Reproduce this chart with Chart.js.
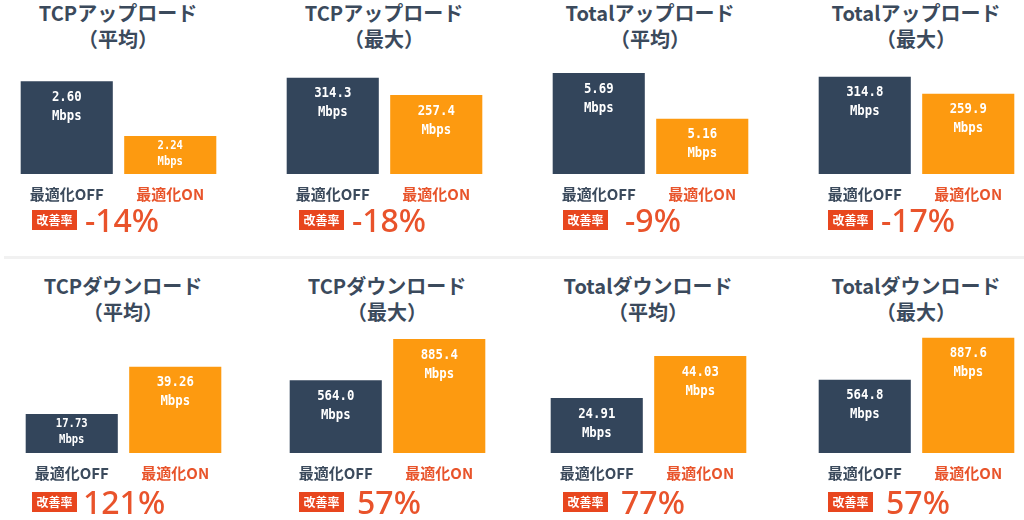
<!DOCTYPE html>
<html lang="ja">
<head>
<meta charset="utf-8">
<title>最適化ON/OFF 通信速度比較</title>
<script src="https://cdn.jsdelivr.net/npm/chart.js@4.4.1/dist/chart.umd.min.js"></script>
<style>
  html, body { margin: 0; padding: 0; background: #fff; }
  body {
    width: 1024px; height: 520px; position: relative; overflow: hidden;
    font-family: "Noto Sans CJK JP", "Noto Sans", sans-serif;
  }
  .title {
    position: absolute; width: 240px; margin-left: -120px; text-align: center;
    font-size: 20px; line-height: 26px; font-weight: 700; color: #3b4a5c;
  }
  .cell { position: absolute; width: 207px; }
  .rate { position: absolute; display: flex; align-items: center; height: 30px; }
  .badge {
    width: 45px; height: 20px; line-height: 20px; text-align: center;
    background: #e8461e; color: #fff; font-size: 12px; font-weight: 700;
  }
  .pct {
    width: 78px; margin-left: 6px; text-align: center; line-height: 30px;
    font-family: "Noto Sans", sans-serif; font-size: 32px; font-weight: 500; color: #e9532b;
  }
  .sep { position: absolute; left: 4px; right: 0; top: 256px; height: 3px; background: #f1f1f1; }
</style>
</head>
<body>
<div class="sep"></div>
<script>
// Chart data
const categories = ['最適化OFF', '最適化ON'];
const titles = ['TCPアップロード', 'TCPアップロード', 'Totalアップロード', 'Totalアップロード',
                'TCPダウンロード', 'TCPダウンロード', 'Totalダウンロード', 'Totalダウンロード'];
const periods = ['（平均）', '（最大）', '（平均）', '（最大）', '（平均）', '（最大）', '（平均）', '（最大）'];
const offValues = [2.60, 314.3, 5.69, 314.8, 17.73, 564.0, 24.91, 564.8];
const onValues = [2.24, 257.4, 5.16, 259.9, 39.26, 885.4, 44.03, 887.6];
const unit = 'Mbps';
// value axis range per panel (the first and third panels do not start at zero)
const axisMin = [1.99, 0, 4.52, 0, 0, 0, 0, 0];
const axisMax = [2.74, 372, 5.84, 369, 59.1, 1009, 59.0, 1001];

// Layout
const cellLeft = [15, 281, 547, 813, 20, 284, 545, 813];
const badgeLeft = [32, 299, 563, 828, 32, 299, 563, 828];
const rowTop = [60, 323];
const rowPlot = [114, 130];
const rowTitleTop = [0, 273];
const rowRateTop = [205, 487];
const OFF_COLOR = '#33455b';
const ON_COLOR = '#fd9a10';

// value + unit written inside each bar (narrow, tall mono lettering)
const barLabels = {
    id: 'barLabels',
    afterDatasetsDraw(chart) {
        const ctx = chart.ctx;
        const values = chart.data.datasets[0].data;
        const bottom = chart.chartArea.bottom;
        chart.getDatasetMeta(0).data.forEach((bar, i) => {
            const v = values[i];
            const small = Math.min(bar.base, bottom) - bar.y < 45;
            ctx.save();
            ctx.translate(bar.x, bar.y);
            ctx.scale(0.88, 1);
            ctx.fillStyle = '#fff';
            ctx.textAlign = 'center';
            ctx.textBaseline = 'middle';
            ctx.font = `bold ${small ? 12 : 14}px "DejaVu Sans Mono", monospace`;
            ctx.fillText(v.toFixed(v >= 100 ? 1 : 2), 0, small ? 10 : 16);
            ctx.fillText(unit, 0, small ? 26 : 35);
            ctx.restore();
        });
    }
};

function renderPanel(i) {
    const row = i < 4 ? 0 : 1;

    const title = document.createElement('div');
    title.className = 'title';
    title.style.left = (cellLeft[i] + 103) + 'px';
    title.style.top = rowTitleTop[row] + 'px';
    title.innerHTML = titles[i] + '<br>' + periods[i];
    document.body.appendChild(title);

    const cell = document.createElement('div');
    cell.className = 'cell';
    cell.style.left = cellLeft[i] + 'px';
    cell.style.top = rowTop[row] + 'px';
    cell.style.height = (rowPlot[row] + 30) + 'px';
    const canvas = document.createElement('canvas');
    cell.appendChild(canvas);
    document.body.appendChild(cell);

    new Chart(canvas, {
        type: 'bar',
        data: {
            labels: categories,
            datasets: [{
                data: [offValues[i], onValues[i]],
                backgroundColor: [OFF_COLOR, ON_COLOR],
                borderWidth: 0,
                categoryPercentage: 1,
                barPercentage: 0.89
            }]
        },
        options: {
            responsive: true,
            maintainAspectRatio: false,
            animation: false,
            layout: { padding: 0 },
            plugins: {
                legend: { display: false },
                tooltip: { enabled: false }
            },
            scales: {
                x: {
                    grid: { display: false, drawTicks: false },
                    border: { display: false },
                    ticks: {
                        padding: 11,
                        color: c => c.index === 0 ? '#3b4a5c' : '#e8542b',
                        font: { family: '"Noto Sans CJK JP", sans-serif', size: 15, weight: 'bold' }
                    },
                    afterFit: s => { s.height = 30; }
                },
                y: { display: false, min: axisMin[i], max: axisMax[i] }
            }
        },
        plugins: [barLabels]
    });

    // improvement rate
    const change = Math.round((onValues[i] / offValues[i] - 1) * 100);
    const rate = document.createElement('div');
    rate.className = 'rate';
    rate.style.left = badgeLeft[i] + 'px';
    rate.style.top = rowRateTop[row] + 'px';
    rate.innerHTML = '<span class="badge">改善率</span><span class="pct">' + change + '%</span>';
    document.body.appendChild(rate);
}

for (let i = 0; i < offValues.length; i++) renderPanel(i);
</script>
</body>
</html>
